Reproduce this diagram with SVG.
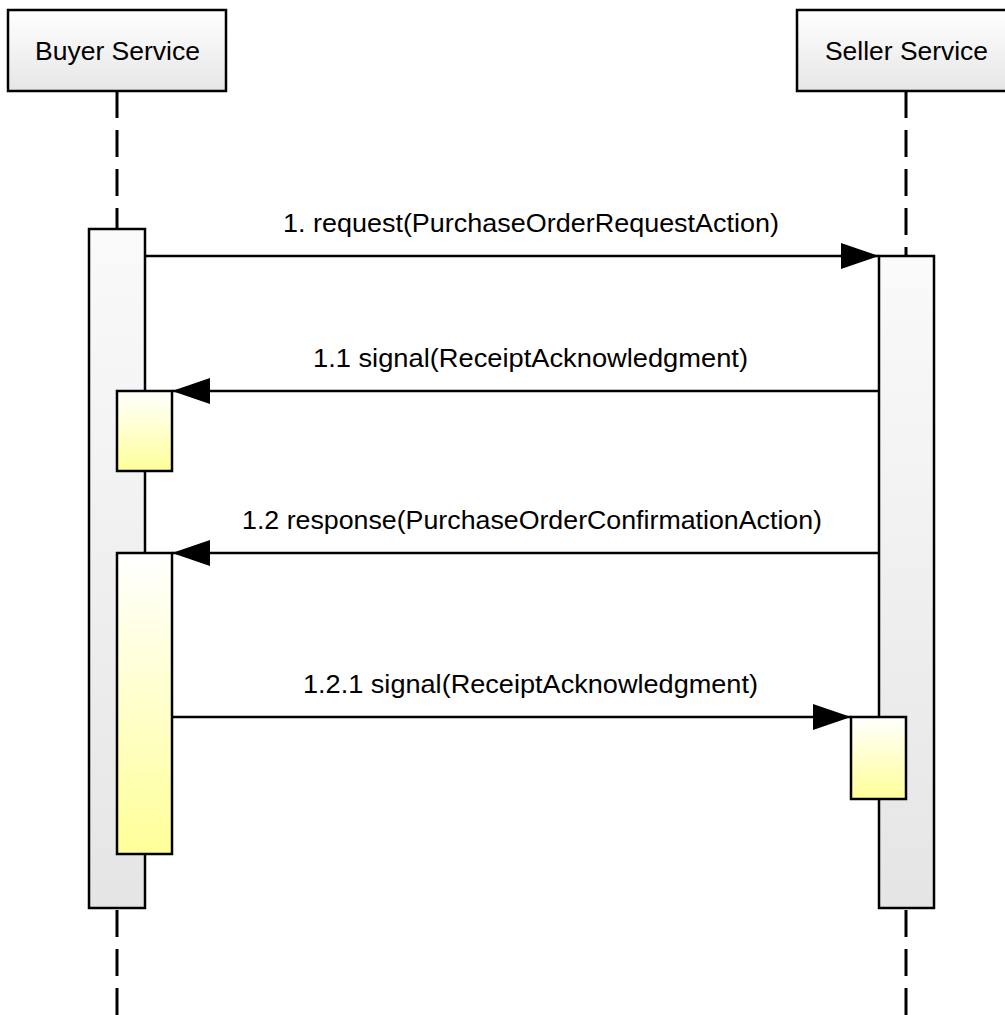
<svg xmlns="http://www.w3.org/2000/svg" width="1005" height="1015" viewBox="0 0 1005 1015">
<defs>
<linearGradient id="gHead" x1="0" y1="0" x2="0" y2="1"><stop offset="0" stop-color="#ffffff"/><stop offset="1" stop-color="#e6e6e6"/></linearGradient>
<linearGradient id="gAct" x1="0" y1="0" x2="0" y2="1"><stop offset="0" stop-color="#fafafa"/><stop offset="1" stop-color="#e5e5e5"/></linearGradient>
<linearGradient id="gYel" x1="0" y1="0" x2="0" y2="1"><stop offset="0" stop-color="#ffffff"/><stop offset="1" stop-color="#ffff99"/></linearGradient>
<marker id="arr" markerUnits="userSpaceOnUse" markerWidth="40" markerHeight="28" refX="38" refY="13" orient="auto"><path d="M0,0 L38,13 L0,26 Z" fill="#000"/></marker>
<style>
.box{stroke:#000;stroke-width:2.5}
.life{stroke:#000;stroke-width:3;stroke-dasharray:27 12;fill:none}
.msg{stroke:#000;stroke-width:2.5;fill:none;marker-end:url(#arr)}
text{font-family:"Liberation Sans",Arial,sans-serif;font-size:25px;fill:#000}
.lbl{text-anchor:middle}
</style>
</defs>
<g id="lifelines">
<line class="life" x1="117" y1="91" x2="117" y2="1015"/>
<line class="life" x1="906" y1="91" x2="906" y2="1015"/>
</g>
<g id="buyer">
<rect class="box" x="8" y="10" width="218" height="81" fill="url(#gHead)"/>
<text class="lbl" x="117.5" y="60" textLength="165" lengthAdjust="spacingAndGlyphs">Buyer Service</text>
</g>
<g id="seller">
<rect class="box" x="797" y="10" width="218" height="81" fill="url(#gHead)"/>
<text class="lbl" x="906.5" y="60" textLength="163" lengthAdjust="spacingAndGlyphs">Seller Service</text>
</g>
<g id="buyer-activation">
<rect class="box" x="89" y="229" width="56" height="679" fill="url(#gAct)"/>
</g>
<g id="seller-activation">
<rect class="box" x="879" y="256" width="55" height="652" fill="url(#gAct)"/>
</g>
<g id="buyer-exec1">
<rect class="box" x="117" y="391" width="55" height="80" fill="url(#gYel)"/>
</g>
<g id="buyer-exec2">
<rect class="box" x="117" y="553" width="55" height="301" fill="url(#gYel)"/>
</g>
<g id="seller-exec">
<rect class="box" x="851" y="717" width="55" height="82" fill="url(#gYel)"/>
</g>
<g id="connectors">
<line class="msg" x1="145" y1="256" x2="879" y2="256"/>
<line class="msg" x1="879" y1="391" x2="172" y2="391"/>
<line class="msg" x1="879" y1="553" x2="172" y2="553"/>
<line class="msg" x1="172" y1="717" x2="851" y2="717"/>
<text class="lbl" x="531" y="232" textLength="496" lengthAdjust="spacingAndGlyphs">1. request(PurchaseOrderRequestAction)</text>
<text class="lbl" x="530.5" y="367" textLength="435" lengthAdjust="spacingAndGlyphs">1.1 signal(ReceiptAcknowledgment)</text>
<text class="lbl" x="532" y="529" textLength="580" lengthAdjust="spacingAndGlyphs">1.2 response(PurchaseOrderConfirmationAction)</text>
<text class="lbl" x="530.5" y="693" textLength="455" lengthAdjust="spacingAndGlyphs">1.2.1 signal(ReceiptAcknowledgment)</text>
</g>
</svg>
